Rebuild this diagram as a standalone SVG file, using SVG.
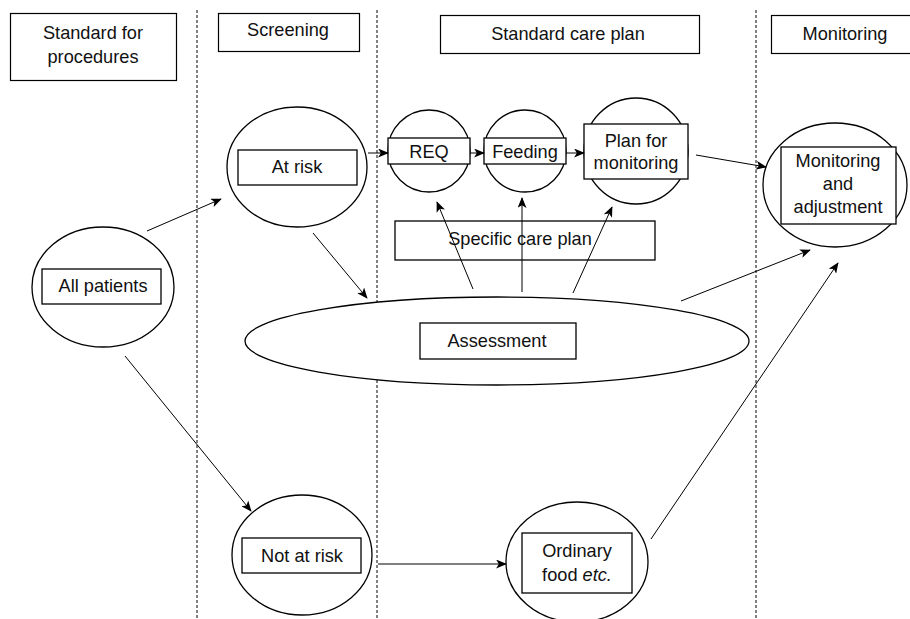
<svg xmlns="http://www.w3.org/2000/svg" width="910" height="619" viewBox="0 0 910 619">
<style>
text{font-family:"Liberation Sans",Arial,sans-serif;font-size:18.2px;fill:#111;text-anchor:middle}
.sh{fill:#fff;stroke:#000;stroke-width:1.3}
.bx{fill:#fff;stroke:#000;stroke-width:1.3}
.hd{fill:#fff;stroke:#000;stroke-width:1.2}
.dl{stroke:#000;stroke-width:1;stroke-dasharray:3 2;fill:none}
.cn line{stroke:#000;stroke-width:1;marker-end:url(#ah)}
</style>
<defs>
<marker id="ah" viewBox="0 0 12 10" refX="11" refY="5" markerWidth="12" markerHeight="9" markerUnits="userSpaceOnUse" orient="auto">
<path d="M0,0 L12,5 L0,10 L3,5 Z" fill="#000"/>
</marker>
</defs>
<rect width="910" height="619" fill="#fff"/>
<g id="lanes">
<line class="dl" x1="197" y1="10" x2="197" y2="619"/>
<line class="dl" x1="377" y1="10" x2="377" y2="619"/>
<line class="dl" x1="756" y1="10" x2="756" y2="619"/>
</g>
<g id="h-procedures"><rect class="hd" x="10.5" y="13.5" width="166" height="67"/><text x="93" y="39">Standard for</text><text x="93" y="63">procedures</text></g>
<g id="h-screening"><rect class="hd" x="218.5" y="13.5" width="141" height="38"/><text x="288" y="36">Screening</text></g>
<g id="h-standard"><rect class="hd" x="440.5" y="15.5" width="259" height="38"/><text x="568" y="40">Standard care plan</text></g>
<g id="h-monitoring"><rect class="hd" x="771.5" y="15.5" width="145" height="38"/><text x="845" y="40">Monitoring</text></g>

<g id="assessment"><ellipse class="sh" cx="497" cy="341" rx="252" ry="44"/><rect class="bx" x="420" y="323" width="156" height="36"/><text x="497" y="347">Assessment</text></g>
<g id="all-patients"><ellipse class="sh" cx="103" cy="287" rx="71" ry="60"/><rect class="bx" x="42" y="269" width="119" height="35"/><text x="103" y="292">All patients</text></g>
<g id="at-risk"><ellipse class="sh" cx="297" cy="167" rx="70" ry="60"/><rect class="bx" x="238" y="150" width="119" height="35"/><text x="297" y="173">At risk</text></g>
<g id="req"><circle class="sh" cx="429" cy="151" r="41"/><rect class="bx" x="388" y="138" width="82" height="26"/><text x="429" y="158">REQ</text></g>
<g id="feeding"><circle class="sh" cx="525" cy="151" r="41"/><rect class="bx" x="484" y="138" width="82" height="26"/><text x="525" y="158">Feeding</text></g>
<g id="plan-monitoring"><ellipse class="sh" cx="636" cy="151" rx="52" ry="53"/><rect class="bx" x="584" y="124" width="104" height="55"/><text x="636" y="147">Plan for</text><text x="636" y="169">monitoring</text></g>
<g id="monitoring-adjustment"><ellipse class="sh" cx="835" cy="185" rx="72" ry="62"/><rect class="bx" x="781" y="147" width="115" height="77"/><text x="838" y="167">Monitoring</text><text x="838" y="190">and</text><text x="838" y="213">adjustment</text></g>
<g id="specific"><rect class="bx" x="395" y="221" width="260" height="39"/><text x="520" y="245">Specific care plan</text></g>
<g id="not-at-risk"><ellipse class="sh" cx="302" cy="555" rx="70" ry="60"/><rect class="bx" x="242" y="538" width="119" height="35"/><text x="302" y="562">Not at risk</text></g>
<g id="ordinary"><ellipse class="sh" cx="577" cy="562" rx="71" ry="60"/><rect class="bx" x="522" y="533" width="110" height="60"/><text x="577" y="557">Ordinary</text><text x="577" y="581">food <tspan font-style="italic">etc.</tspan></text></g>

<g id="connectors" class="cn">
<line x1="147" y1="231" x2="221" y2="199"/>
<line x1="125" y1="356" x2="251" y2="511"/>
<line x1="368" y1="153" x2="388" y2="153"/>
<line x1="470" y1="153" x2="484" y2="153"/>
<line x1="566" y1="153" x2="584" y2="153"/>
<line x1="696" y1="155" x2="766" y2="167"/>
<line x1="313" y1="233" x2="367" y2="298"/>
<line x1="473" y1="289" x2="437" y2="202"/>
<line x1="522" y1="292" x2="522" y2="198"/>
<line x1="573" y1="293" x2="612" y2="207"/>
<line x1="681" y1="301" x2="810" y2="250"/>
<line x1="651" y1="539" x2="838" y2="263"/>
<line x1="378" y1="564" x2="506" y2="564"/>
</g>
</svg>
